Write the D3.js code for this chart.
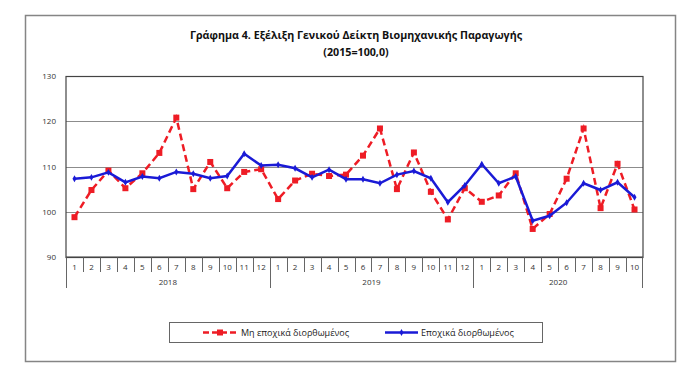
<!DOCTYPE html>
<html>
<head>
<meta charset="utf-8">
<script src="https://cdn.jsdelivr.net/npm/d3@7"></script>
<style>
  body { margin: 0; background: #fff; }
  svg { display: block; font-family: "Open Sans", "Noto Sans", sans-serif; }
  .grid line { stroke: #8c8c8c; stroke-width: 1.2; }
  .tick-lbl { font-size: 8px; fill: #333; }
</style>
</head>
<body>
<svg id="chart"></svg>
<script>
// months shown on the x axis
const years = ['2018', '2019', '2020'];
const monthsPerYear = [12, 12, 10];

// Μη εποχικά διορθωμένος (not seasonally adjusted)
const rawValues = [
  98.8, 104.8, 109.1, 105.2, 108.5, 113.0, 120.8, 105.0, 111.0, 105.2, 108.8, 109.4,
  102.8, 106.9, 108.4, 107.9, 108.2, 112.4, 118.4, 105.0, 113.1, 104.4, 98.3, 105.2,
  102.2, 103.6, 108.5, 96.2, 99.5, 107.3, 118.4, 100.8, 110.6, 100.5
];

// Εποχικά διορθωμένος (seasonally adjusted)
const adjValues = [
  107.3, 107.6, 108.7, 106.5, 107.8, 107.4, 108.8, 108.4, 107.4, 107.9, 112.8, 110.2,
  110.4, 109.6, 107.6, 109.3, 107.2, 107.2, 106.3, 108.2, 109.0, 107.4, 102.1, 105.8,
  110.5, 106.3, 107.8, 98.0, 99.1, 102.0, 106.3, 104.8, 106.5, 103.2
];

const yTicks = [90, 100, 110, 120, 130];
const legendLabels = ['Μη εποχικά διορθωμένος', 'Εποχικά διορθωμένος'];

const W = 700, H = 376;
const margin = { top: 76, left: 66, right: 57, bottom: 119 };
const iw = W - margin.left - margin.right;
const ih = H - margin.top - margin.bottom;

const cats = [];
years.forEach((yr, i) => {
  for (let m = 1; m <= monthsPerYear[i]; m++) cats.push({ key: yr + '-' + m, m, yr });
});

const svg = d3.select('#chart').attr('width', W).attr('height', H);

// outer frame
svg.append('rect')
  .attr('x', 25.5).attr('y', 15.5).attr('width', 650).attr('height', 346)
  .attr('fill', 'none').attr('stroke', '#858585').attr('stroke-width', 1.5);

// title
const title = svg.append('text')
  .attr('text-anchor', 'middle')
  .attr('font-weight', 'bold')
  .attr('font-size', 10.7)
  .attr('fill', '#111');
title.append('tspan').attr('x', 356).attr('y', 39)
  .text('Γράφημα 4. Εξέλιξη Γενικού Δείκτη Βιομηχανικής Παραγωγής');
title.append('tspan').attr('x', 356).attr('y', 56).text('(2015=100,0)');

const g = svg.append('g').attr('transform', `translate(${margin.left},${margin.top})`);

const x = d3.scaleBand().domain(cats.map(d => d.key)).range([0, iw]);
const y = d3.scaleLinear().domain([90, 130]).range([ih, 0]);

// gridlines
g.append('g').attr('class', 'grid')
  .selectAll('line').data(yTicks.slice(1, -1)).join('line')
  .attr('x1', 0).attr('x2', iw)
  .attr('y1', d => Math.round(y(d)) + 0.5).attr('y2', d => Math.round(y(d)) + 0.5);

// plot border
g.append('rect')
  .attr('x', 0).attr('y', 0.5).attr('width', iw).attr('height', ih)
  .attr('fill', 'none').attr('stroke', '#444').attr('stroke-width', 1.2);

// y axis labels
g.selectAll('.ylbl').data(yTicks).join('text')
  .attr('class', 'tick-lbl')
  .attr('x', -10).attr('y', d => y(d) + 3)
  .attr('text-anchor', 'end')
  .text(d => d);

// x axis: category separators
const axisG = g.append('g').attr('transform', `translate(0,${ih})`);
axisG.append('line').attr('x1', 0).attr('x2', iw).attr('stroke', '#444').attr('stroke-width', 1.2);

const yearStart = new Set(cats.filter(d => d.m === 1).map(d => d.key));
cats.forEach(d => {
  const xx = Math.round(x(d.key)) + 0.5;
  axisG.append('line')
    .attr('x1', xx).attr('x2', xx)
    .attr('y1', 0).attr('y2', yearStart.has(d.key) ? 31 : 15)
    .attr('stroke', '#555').attr('stroke-width', 0.9);
});
axisG.append('line')
  .attr('x1', iw - 0.5).attr('x2', iw - 0.5).attr('y1', 0).attr('y2', 31)
  .attr('stroke', '#555').attr('stroke-width', 0.9);

axisG.selectAll('.mlbl').data(cats).join('text')
  .attr('class', 'tick-lbl')
  .attr('font-size', 7.5)
  .attr('x', d => x(d.key) + x.bandwidth() / 2)
  .attr('y', 13)
  .attr('text-anchor', 'middle')
  .text(d => d.m);

years.forEach(yr => {
  const ks = cats.filter(d => d.yr === yr);
  const x0 = x(ks[0].key), x1 = x(ks[ks.length - 1].key) + x.bandwidth();
  axisG.append('text')
    .attr('class', 'tick-lbl')
    .attr('font-size', 7.5)
    .attr('x', (x0 + x1) / 2).attr('y', 28)
    .attr('text-anchor', 'middle')
    .text(yr);
});

const cx = i => x(cats[i].key) + x.bandwidth() / 2;
const line = d3.line().x((d, i) => cx(i)).y(d => y(d));

const red = '#ee1c25', blue = '#1a1ad6';

// non-seasonally adjusted series
g.append('path').datum(rawValues)
  .attr('d', line).attr('fill', 'none')
  .attr('stroke', red).attr('stroke-width', 2.5)
  .attr('stroke-dasharray', '7,4');
g.selectAll('.sq').data(rawValues).join('rect')
  .attr('x', (d, i) => cx(i) - 3).attr('y', d => y(d) - 3)
  .attr('width', 6).attr('height', 6).attr('fill', red);

// seasonally adjusted series
g.append('path').datum(adjValues)
  .attr('d', line).attr('fill', 'none')
  .attr('stroke', blue).attr('stroke-width', 2.5);
g.selectAll('.dm').data(adjValues).join('path')
  .attr('d', d3.symbol(d3.symbolDiamond, 14))
  .attr('transform', (d, i) => `translate(${cx(i)},${y(d)})`)
  .attr('fill', blue);

// legend
const leg = svg.append('g');
leg.append('rect')
  .attr('x', 169.5).attr('y', 322.5).attr('width', 373).attr('height', 20)
  .attr('fill', '#fff').attr('stroke', '#666').attr('stroke-width', 1);
leg.append('line').attr('x1', 203).attr('x2', 237).attr('y1', 332.5).attr('y2', 332.5)
  .attr('stroke', red).attr('stroke-width', 2.5).attr('stroke-dasharray', '6,3');
leg.append('rect').attr('x', 217).attr('y', 329.5).attr('width', 6).attr('height', 6).attr('fill', red);
leg.append('text').attr('x', 241).attr('y', 336).attr('font-size', 9).attr('fill', '#222')
  .text(legendLabels[0]);
leg.append('line').attr('x1', 385).attr('x2', 418).attr('y1', 332.5).attr('y2', 332.5)
  .attr('stroke', blue).attr('stroke-width', 2.5);
leg.append('path').attr('d', d3.symbol(d3.symbolDiamond, 14))
  .attr('transform', 'translate(401.5,332.5)').attr('fill', blue);
leg.append('text').attr('x', 421).attr('y', 336).attr('font-size', 9).attr('fill', '#222')
  .text(legendLabels[1]);
</script>
</body>
</html>
